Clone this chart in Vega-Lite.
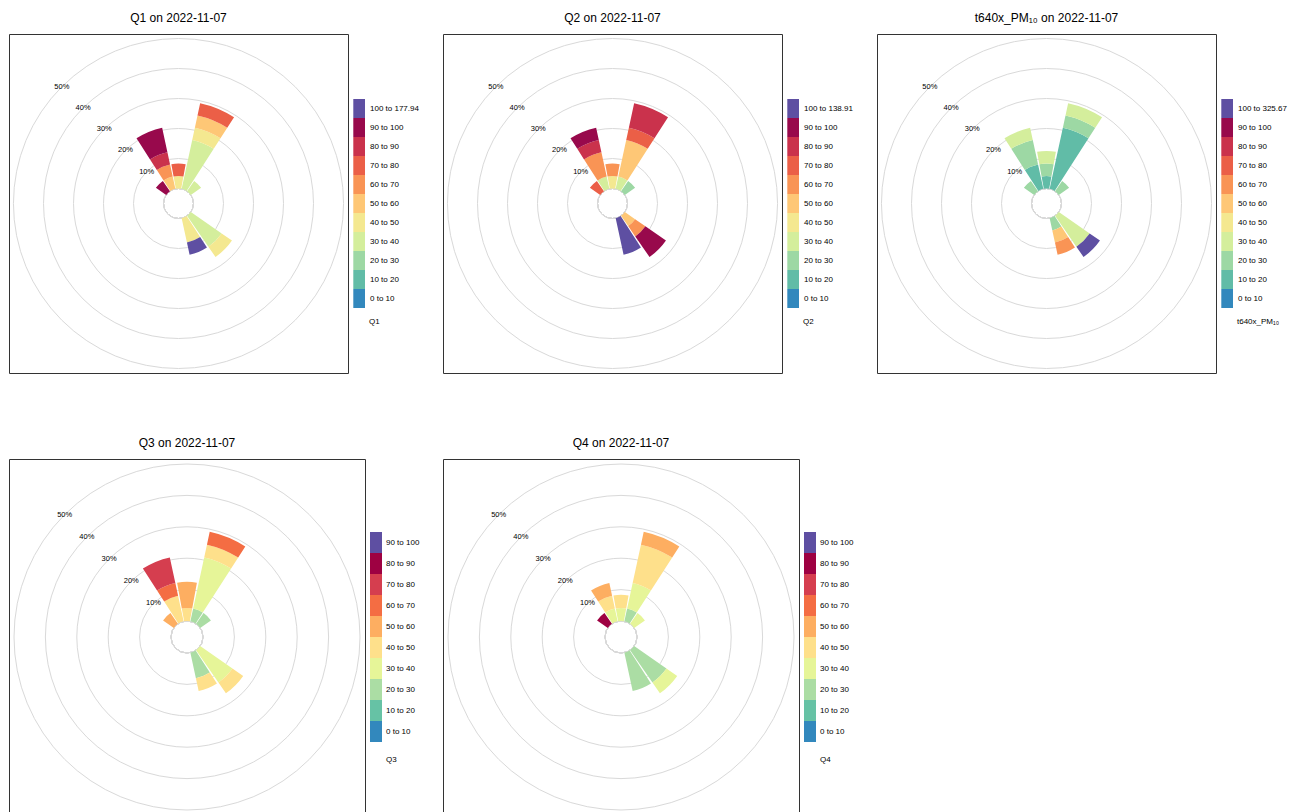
{
  "$schema": "https://vega.github.io/schema/vega-lite/v6.json",
  "autosize": {"type": "pad"},
  "padding": {"left": 8, "top": 11, "right": 5, "bottom": 5},
  "background": "white",
  "config": {
    "view": {"stroke": "#333333", "strokeWidth": 1},
    "title": {"fontSize": 12, "fontWeight": "normal", "font": "Liberation Sans", "color": "#000000", "offset": 9},
    "legend": {"labelFont": "Liberation Sans", "titleFont": "Liberation Sans", "labelFontSize": 8, "titleFontSize": 8, "titleFontWeight": "normal", "labelColor": "#000000", "titleColor": "#000000", "padding": 0, "rowPadding": 0, "symbolStrokeWidth": 0, "symbolOpacity": 1, "titleOrient": "bottom", "titleAnchor": "start", "titleAlign": "left", "orient": "none"}
  },
  "datasets": {
    "rings": [{"pct": 0}, {"pct": 10}, {"pct": 20}, {"pct": 30}, {"pct": 40}, {"pct": 50}],
    "labels": [{"pct": 10, "ang": 315, "lab": "10%"}, {"pct": 20, "ang": 315, "lab": "20%"}, {"pct": 30, "ang": 315, "lab": "30%"}, {"pct": 40, "ang": 315, "lab": "40%"}, {"pct": 50, "ang": 315, "lab": "50%"}],
    "q1": [
      {"dir": 0, "bin": "40 to 50", "lo": 0, "hi": 4.17},
      {"dir": 0, "bin": "70 to 80", "lo": 4.17, "hi": 8.33},
      {"dir": 22.5, "bin": "30 to 40", "lo": 0, "hi": 16.67},
      {"dir": 22.5, "bin": "40 to 50", "lo": 16.67, "hi": 20.83},
      {"dir": 22.5, "bin": "50 to 60", "lo": 20.83, "hi": 25},
      {"dir": 22.5, "bin": "70 to 80", "lo": 25, "hi": 29.17},
      {"dir": 45, "bin": "30 to 40", "lo": 0, "hi": 4.17},
      {"dir": 135, "bin": "30 to 40", "lo": 0, "hi": 12.5},
      {"dir": 135, "bin": "40 to 50", "lo": 12.5, "hi": 16.67},
      {"dir": 157.5, "bin": "40 to 50", "lo": 0, "hi": 8.33},
      {"dir": 157.5, "bin": "100 to 177.94", "lo": 8.33, "hi": 12.5},
      {"dir": 315, "bin": "90 to 100", "lo": 0, "hi": 4.17},
      {"dir": 337.5, "bin": "50 to 60", "lo": 0, "hi": 4.17},
      {"dir": 337.5, "bin": "60 to 70", "lo": 4.17, "hi": 8.33},
      {"dir": 337.5, "bin": "80 to 90", "lo": 8.33, "hi": 12.5},
      {"dir": 337.5, "bin": "90 to 100", "lo": 12.5, "hi": 20.83}
    ],
    "q2": [
      {"dir": 0, "bin": "40 to 50", "lo": 0, "hi": 4.17},
      {"dir": 0, "bin": "60 to 70", "lo": 4.17, "hi": 8.33},
      {"dir": 22.5, "bin": "30 to 40", "lo": 0, "hi": 4.17},
      {"dir": 22.5, "bin": "50 to 60", "lo": 4.17, "hi": 16.67},
      {"dir": 22.5, "bin": "70 to 80", "lo": 16.67, "hi": 20.83},
      {"dir": 22.5, "bin": "80 to 90", "lo": 20.83, "hi": 29.17},
      {"dir": 45, "bin": "20 to 30", "lo": 0, "hi": 4.17},
      {"dir": 135, "bin": "50 to 60", "lo": 0, "hi": 4.17},
      {"dir": 135, "bin": "60 to 70", "lo": 4.17, "hi": 8.33},
      {"dir": 135, "bin": "90 to 100", "lo": 8.33, "hi": 16.67},
      {"dir": 157.5, "bin": "100 to 138.91", "lo": 0, "hi": 12.5},
      {"dir": 315, "bin": "70 to 80", "lo": 0, "hi": 4.17},
      {"dir": 337.5, "bin": "30 to 40", "lo": 0, "hi": 4.17},
      {"dir": 337.5, "bin": "60 to 70", "lo": 4.17, "hi": 12.5},
      {"dir": 337.5, "bin": "80 to 90", "lo": 12.5, "hi": 16.67},
      {"dir": 337.5, "bin": "90 to 100", "lo": 16.67, "hi": 20.83}
    ],
    "pm10": [
      {"dir": 0, "bin": "10 to 20", "lo": 0, "hi": 4.17},
      {"dir": 0, "bin": "20 to 30", "lo": 4.17, "hi": 8.33},
      {"dir": 0, "bin": "30 to 40", "lo": 8.33, "hi": 12.5},
      {"dir": 22.5, "bin": "10 to 20", "lo": 0, "hi": 20.83},
      {"dir": 22.5, "bin": "20 to 30", "lo": 20.83, "hi": 25},
      {"dir": 22.5, "bin": "30 to 40", "lo": 25, "hi": 29.17},
      {"dir": 45, "bin": "20 to 30", "lo": 0, "hi": 4.17},
      {"dir": 135, "bin": "30 to 40", "lo": 0, "hi": 12.5},
      {"dir": 135, "bin": "100 to 325.67", "lo": 12.5, "hi": 16.67},
      {"dir": 157.5, "bin": "20 to 30", "lo": 0, "hi": 4.17},
      {"dir": 157.5, "bin": "50 to 60", "lo": 4.17, "hi": 8.33},
      {"dir": 157.5, "bin": "60 to 70", "lo": 8.33, "hi": 12.5},
      {"dir": 315, "bin": "20 to 30", "lo": 0, "hi": 4.17},
      {"dir": 337.5, "bin": "10 to 20", "lo": 0, "hi": 8.33},
      {"dir": 337.5, "bin": "20 to 30", "lo": 8.33, "hi": 16.67},
      {"dir": 337.5, "bin": "30 to 40", "lo": 16.67, "hi": 20.83}
    ],
    "q3": [
      {"dir": 0, "bin": "40 to 50", "lo": 0, "hi": 4.17},
      {"dir": 0, "bin": "50 to 60", "lo": 4.17, "hi": 12.5},
      {"dir": 22.5, "bin": "20 to 30", "lo": 0, "hi": 4.17},
      {"dir": 22.5, "bin": "30 to 40", "lo": 4.17, "hi": 20.83},
      {"dir": 22.5, "bin": "40 to 50", "lo": 20.83, "hi": 25},
      {"dir": 22.5, "bin": "60 to 70", "lo": 25, "hi": 29.17},
      {"dir": 45, "bin": "20 to 30", "lo": 0, "hi": 4.17},
      {"dir": 135, "bin": "30 to 40", "lo": 0, "hi": 12.5},
      {"dir": 135, "bin": "40 to 50", "lo": 12.5, "hi": 16.67},
      {"dir": 157.5, "bin": "20 to 30", "lo": 0, "hi": 8.33},
      {"dir": 157.5, "bin": "40 to 50", "lo": 8.33, "hi": 12.5},
      {"dir": 315, "bin": "50 to 60", "lo": 0, "hi": 4.17},
      {"dir": 337.5, "bin": "40 to 50", "lo": 0, "hi": 8.33},
      {"dir": 337.5, "bin": "60 to 70", "lo": 8.33, "hi": 12.5},
      {"dir": 337.5, "bin": "70 to 80", "lo": 12.5, "hi": 20.83}
    ],
    "q4": [
      {"dir": 0, "bin": "30 to 40", "lo": 0, "hi": 4.17},
      {"dir": 0, "bin": "40 to 50", "lo": 4.17, "hi": 8.33},
      {"dir": 22.5, "bin": "20 to 30", "lo": 0, "hi": 4.17},
      {"dir": 22.5, "bin": "30 to 40", "lo": 4.17, "hi": 12.5},
      {"dir": 22.5, "bin": "40 to 50", "lo": 12.5, "hi": 25},
      {"dir": 22.5, "bin": "50 to 60", "lo": 25, "hi": 29.17},
      {"dir": 45, "bin": "30 to 40", "lo": 0, "hi": 4.17},
      {"dir": 135, "bin": "20 to 30", "lo": 0, "hi": 12.5},
      {"dir": 135, "bin": "30 to 40", "lo": 12.5, "hi": 16.67},
      {"dir": 157.5, "bin": "20 to 30", "lo": 0, "hi": 12.5},
      {"dir": 315, "bin": "80 to 90", "lo": 0, "hi": 4.17},
      {"dir": 337.5, "bin": "30 to 40", "lo": 0, "hi": 4.17},
      {"dir": 337.5, "bin": "40 to 50", "lo": 4.17, "hi": 8.33},
      {"dir": 337.5, "bin": "50 to 60", "lo": 8.33, "hi": 12.5}
    ]
  },
  "spacing": 62,
  "resolve": {"scale": {"color": "independent", "theta": "independent", "radius": "independent"}, "legend": {"color": "independent"}},
  "vconcat": [
    {
      "hconcat": [
        {
          "title": "Q1 on 2022-11-07",
          "width": 339, "height": 339,
          "view": {"stroke": "#333333", "strokeWidth": 1},
          "layer": [
            {"data": {"name": "rings"}, "mark": {"type": "arc", "theta": 0, "theta2": 6.2832, "fill": "white", "fillOpacity": 0, "stroke": "#d9d9d9", "strokeWidth": 1},
             "encoding": {"radius": {"field": "pct", "type": "quantitative", "stack": null, "scale": {"type": "linear", "domain": [0, 50], "range": [15, 165], "nice": false, "zero": false}}}},
            {"data": {"name": "q1"}, "mark": {"type": "arc", "thetaOffset": -0.18, "theta2Offset": 0.18},
             "encoding": {
               "theta": {"field": "dir", "type": "quantitative", "stack": null, "scale": {"type": "linear", "domain": [0, 360], "range": [0, 6.283185], "nice": false, "zero": false}},
               "theta2": {"field": "dir"},
               "radius": {"field": "hi", "type": "quantitative", "stack": null, "scale": {"type": "linear", "domain": [0, 50], "range": [15, 165], "nice": false, "zero": false}},
               "radius2": {"field": "lo"},
               "color": {"field": "bin", "type": "nominal",
                 "scale": {"domain": ["100 to 177.94", "90 to 100", "80 to 90", "70 to 80", "60 to 70", "50 to 60", "40 to 50", "30 to 40", "20 to 30", "10 to 20", "0 to 10"],
                           "range": ["#5E4FA2", "#98094C", "#CA324C", "#EB5F47", "#F99455", "#FEC776", "#F4E890", "#D4EE9C", "#9DD8A4", "#61BCA7", "#3288BD"]},
                 "legend": {"title": "Q1", "legendX": 360, "legendY": 65, "symbolType": "M-0.616,-1H0.616V1H-0.616Z", "symbolSize": 361, "symbolOffset": -19.35, "labelOffset": 1.35, "titlePadding": 9.5}}
             }},
            {"data": {"name": "labels"}, "mark": {"type": "text", "fontSize": 7.5, "font": "Liberation Sans", "color": "#000000"},
             "encoding": {
               "theta": {"field": "ang", "type": "quantitative", "stack": null, "scale": {"type": "linear", "domain": [0, 360], "range": [0, 6.283185], "nice": false, "zero": false}},
               "radius": {"field": "pct", "type": "quantitative", "stack": null, "scale": {"type": "linear", "domain": [0, 50], "range": [15, 165], "nice": false, "zero": false}},
               "text": {"field": "lab"}
             }}
          ]
        },
        {
          "title": "Q2 on 2022-11-07",
          "width": 339, "height": 339,
          "view": {"stroke": "#333333", "strokeWidth": 1},
          "layer": [
            {"data": {"name": "rings"}, "mark": {"type": "arc", "theta": 0, "theta2": 6.2832, "fill": "white", "fillOpacity": 0, "stroke": "#d9d9d9", "strokeWidth": 1},
             "encoding": {"radius": {"field": "pct", "type": "quantitative", "stack": null, "scale": {"type": "linear", "domain": [0, 50], "range": [15, 165], "nice": false, "zero": false}}}},
            {"data": {"name": "q2"}, "mark": {"type": "arc", "thetaOffset": -0.18, "theta2Offset": 0.18},
             "encoding": {
               "theta": {"field": "dir", "type": "quantitative", "stack": null, "scale": {"type": "linear", "domain": [0, 360], "range": [0, 6.283185], "nice": false, "zero": false}},
               "theta2": {"field": "dir"},
               "radius": {"field": "hi", "type": "quantitative", "stack": null, "scale": {"type": "linear", "domain": [0, 50], "range": [15, 165], "nice": false, "zero": false}},
               "radius2": {"field": "lo"},
               "color": {"field": "bin", "type": "nominal",
                 "scale": {"domain": ["100 to 138.91", "90 to 100", "80 to 90", "70 to 80", "60 to 70", "50 to 60", "40 to 50", "30 to 40", "20 to 30", "10 to 20", "0 to 10"],
                           "range": ["#5E4FA2", "#98094C", "#CA324C", "#EB5F47", "#F99455", "#FEC776", "#F4E890", "#D4EE9C", "#9DD8A4", "#61BCA7", "#3288BD"]},
                 "legend": {"title": "Q2", "legendX": 360, "legendY": 65, "symbolType": "M-0.616,-1H0.616V1H-0.616Z", "symbolSize": 361, "symbolOffset": -19.35, "labelOffset": 1.35, "titlePadding": 9.5}}
             }},
            {"data": {"name": "labels"}, "mark": {"type": "text", "fontSize": 7.5, "font": "Liberation Sans", "color": "#000000"},
             "encoding": {
               "theta": {"field": "ang", "type": "quantitative", "stack": null, "scale": {"type": "linear", "domain": [0, 360], "range": [0, 6.283185], "nice": false, "zero": false}},
               "radius": {"field": "pct", "type": "quantitative", "stack": null, "scale": {"type": "linear", "domain": [0, 50], "range": [15, 165], "nice": false, "zero": false}},
               "text": {"field": "lab"}
             }}
          ]
        },
        {
          "title": "t640x_PM₁₀ on 2022-11-07",
          "width": 339, "height": 339,
          "view": {"stroke": "#333333", "strokeWidth": 1},
          "layer": [
            {"data": {"name": "rings"}, "mark": {"type": "arc", "theta": 0, "theta2": 6.2832, "fill": "white", "fillOpacity": 0, "stroke": "#d9d9d9", "strokeWidth": 1},
             "encoding": {"radius": {"field": "pct", "type": "quantitative", "stack": null, "scale": {"type": "linear", "domain": [0, 50], "range": [15, 165], "nice": false, "zero": false}}}},
            {"data": {"name": "pm10"}, "mark": {"type": "arc", "thetaOffset": -0.18, "theta2Offset": 0.18},
             "encoding": {
               "theta": {"field": "dir", "type": "quantitative", "stack": null, "scale": {"type": "linear", "domain": [0, 360], "range": [0, 6.283185], "nice": false, "zero": false}},
               "theta2": {"field": "dir"},
               "radius": {"field": "hi", "type": "quantitative", "stack": null, "scale": {"type": "linear", "domain": [0, 50], "range": [15, 165], "nice": false, "zero": false}},
               "radius2": {"field": "lo"},
               "color": {"field": "bin", "type": "nominal",
                 "scale": {"domain": ["100 to 325.67", "90 to 100", "80 to 90", "70 to 80", "60 to 70", "50 to 60", "40 to 50", "30 to 40", "20 to 30", "10 to 20", "0 to 10"],
                           "range": ["#5E4FA2", "#98094C", "#CA324C", "#EB5F47", "#F99455", "#FEC776", "#F4E890", "#D4EE9C", "#9DD8A4", "#61BCA7", "#3288BD"]},
                 "legend": {"title": "t640x_PM₁₀", "legendX": 360, "legendY": 65, "symbolType": "M-0.616,-1H0.616V1H-0.616Z", "symbolSize": 361, "symbolOffset": -19.35, "labelOffset": 1.35, "titlePadding": 9.5}}
             }},
            {"data": {"name": "labels"}, "mark": {"type": "text", "fontSize": 7.5, "font": "Liberation Sans", "color": "#000000"},
             "encoding": {
               "theta": {"field": "ang", "type": "quantitative", "stack": null, "scale": {"type": "linear", "domain": [0, 360], "range": [0, 6.283185], "nice": false, "zero": false}},
               "radius": {"field": "pct", "type": "quantitative", "stack": null, "scale": {"type": "linear", "domain": [0, 50], "range": [15, 165], "nice": false, "zero": false}},
               "text": {"field": "lab"}
             }}
          ]
        }
      ],
      "spacing": 95,
      "bounds": "flush",
      "resolve": {"scale": {"color": "independent", "theta": "independent", "radius": "independent"}, "legend": {"color": "independent"}}
    },
    {
      "hconcat": [
        {
          "title": "Q3 on 2022-11-07",
          "width": 356, "height": 356,
          "view": {"stroke": "#333333", "strokeWidth": 1},
          "layer": [
            {"data": {"name": "rings"}, "mark": {"type": "arc", "theta": 0, "theta2": 6.2832, "fill": "white", "fillOpacity": 0, "stroke": "#d9d9d9", "strokeWidth": 1},
             "encoding": {"radius": {"field": "pct", "type": "quantitative", "stack": null, "scale": {"type": "linear", "domain": [0, 50], "range": [16, 173], "nice": false, "zero": false}}}},
            {"data": {"name": "q3"}, "mark": {"type": "arc", "thetaOffset": -0.18, "theta2Offset": 0.18},
             "encoding": {
               "theta": {"field": "dir", "type": "quantitative", "stack": null, "scale": {"type": "linear", "domain": [0, 360], "range": [0, 6.283185], "nice": false, "zero": false}},
               "theta2": {"field": "dir"},
               "radius": {"field": "hi", "type": "quantitative", "stack": null, "scale": {"type": "linear", "domain": [0, 50], "range": [16, 173], "nice": false, "zero": false}},
               "radius2": {"field": "lo"},
               "color": {"field": "bin", "type": "nominal",
                 "scale": {"domain": ["90 to 100", "80 to 90", "70 to 80", "60 to 70", "50 to 60", "40 to 50", "30 to 40", "20 to 30", "10 to 20", "0 to 10"],
                           "range": ["#5E4FA2", "#9E0142", "#D53E4F", "#F46D43", "#FDAE61", "#FEE08B", "#E6F598", "#ABDDA4", "#66C2A5", "#3288BD"]},
                 "legend": {"title": "Q3", "legendX": 377, "legendY": 73, "symbolType": "M-0.571,-1H0.571V1H-0.571Z", "symbolSize": 441, "symbolOffset": -20.5, "labelOffset": -0.5, "titlePadding": 13.5}}
             }},
            {"data": {"name": "labels"}, "mark": {"type": "text", "fontSize": 7.5, "font": "Liberation Sans", "color": "#000000"},
             "encoding": {
               "theta": {"field": "ang", "type": "quantitative", "stack": null, "scale": {"type": "linear", "domain": [0, 360], "range": [0, 6.283185], "nice": false, "zero": false}},
               "radius": {"field": "pct", "type": "quantitative", "stack": null, "scale": {"type": "linear", "domain": [0, 50], "range": [16, 173], "nice": false, "zero": false}},
               "text": {"field": "lab"}
             }}
          ]
        },
        {
          "title": "Q4 on 2022-11-07",
          "width": 356, "height": 356,
          "view": {"stroke": "#333333", "strokeWidth": 1},
          "layer": [
            {"data": {"name": "rings"}, "mark": {"type": "arc", "theta": 0, "theta2": 6.2832, "fill": "white", "fillOpacity": 0, "stroke": "#d9d9d9", "strokeWidth": 1},
             "encoding": {"radius": {"field": "pct", "type": "quantitative", "stack": null, "scale": {"type": "linear", "domain": [0, 50], "range": [16, 173], "nice": false, "zero": false}}}},
            {"data": {"name": "q4"}, "mark": {"type": "arc", "thetaOffset": -0.18, "theta2Offset": 0.18},
             "encoding": {
               "theta": {"field": "dir", "type": "quantitative", "stack": null, "scale": {"type": "linear", "domain": [0, 360], "range": [0, 6.283185], "nice": false, "zero": false}},
               "theta2": {"field": "dir"},
               "radius": {"field": "hi", "type": "quantitative", "stack": null, "scale": {"type": "linear", "domain": [0, 50], "range": [16, 173], "nice": false, "zero": false}},
               "radius2": {"field": "lo"},
               "color": {"field": "bin", "type": "nominal",
                 "scale": {"domain": ["90 to 100", "80 to 90", "70 to 80", "60 to 70", "50 to 60", "40 to 50", "30 to 40", "20 to 30", "10 to 20", "0 to 10"],
                           "range": ["#5E4FA2", "#9E0142", "#D53E4F", "#F46D43", "#FDAE61", "#FEE08B", "#E6F598", "#ABDDA4", "#66C2A5", "#3288BD"]},
                 "legend": {"title": "Q4", "legendX": 377, "legendY": 73, "symbolType": "M-0.571,-1H0.571V1H-0.571Z", "symbolSize": 441, "symbolOffset": -20.5, "labelOffset": -0.5, "titlePadding": 13.5}}
             }},
            {"data": {"name": "labels"}, "mark": {"type": "text", "fontSize": 7.5, "font": "Liberation Sans", "color": "#000000"},
             "encoding": {
               "theta": {"field": "ang", "type": "quantitative", "stack": null, "scale": {"type": "linear", "domain": [0, 360], "range": [0, 6.283185], "nice": false, "zero": false}},
               "radius": {"field": "pct", "type": "quantitative", "stack": null, "scale": {"type": "linear", "domain": [0, 50], "range": [16, 173], "nice": false, "zero": false}},
               "text": {"field": "lab"}
             }}
          ]
        }
      ],
      "spacing": 78,
      "bounds": "flush",
      "resolve": {"scale": {"color": "independent", "theta": "independent", "radius": "independent"}, "legend": {"color": "independent"}}
    }
  ]
}
